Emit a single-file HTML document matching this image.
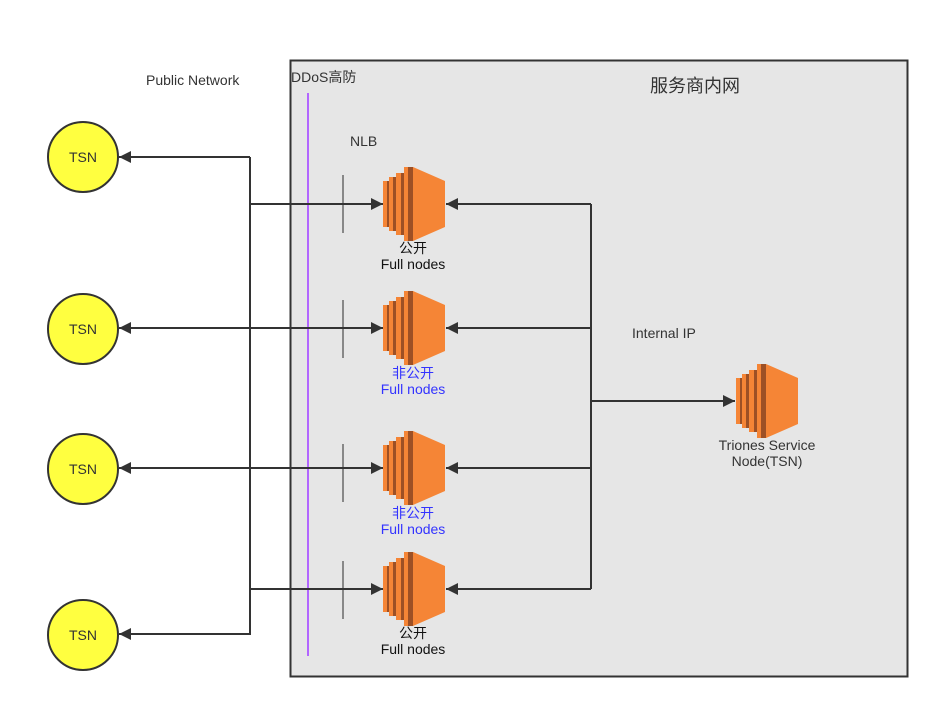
<!DOCTYPE html>
<html><head><meta charset="utf-8"><style>
html,body{margin:0;padding:0;background:#fff}
svg{display:block}
text{font-family:"Liberation Sans","Noto Sans CJK SC",sans-serif}
</style></head><body>
<svg width="939" height="709" viewBox="0 0 939 709" xmlns="http://www.w3.org/2000/svg">
<defs>
<marker id="ar" viewBox="0 0 10 10" refX="10" refY="5" markerWidth="12" markerHeight="12" markerUnits="userSpaceOnUse" orient="auto"><path d="M0,0 L10,5 L0,10 Z" fill="#333"/></marker>
<g id="ic">
<rect x="0" y="14" width="4" height="46" fill="#f58536"/><rect x="4" y="14" width="2" height="46" fill="#9d5025"/>
<rect x="6" y="10" width="4" height="54" fill="#f58536"/><rect x="10" y="10" width="3" height="54" fill="#9d5025"/>
<rect x="13" y="6" width="5" height="62" fill="#f58536"/><rect x="18" y="6" width="3" height="62" fill="#9d5025"/>
<rect x="21" y="0" width="4" height="74" fill="#f58536"/><rect x="25" y="0" width="5" height="74" fill="#9d5025"/>
<polygon points="30,0 62,14 62,60 30,74" fill="#f58536"/>
</g>
</defs>
<rect x="290.5" y="60.5" width="617" height="616" fill="#e6e6e6" stroke="#333" stroke-width="2"/>
<line x1="308" y1="93" x2="308" y2="656" stroke="#b266ff" stroke-width="2"/>
<g stroke="#888" stroke-width="2">
<line x1="343" y1="175" x2="343" y2="233"/><line x1="343" y1="300" x2="343" y2="358"/>
<line x1="343" y1="444" x2="343" y2="502"/><line x1="343" y1="561" x2="343" y2="619"/>
</g>
<g stroke="#333" stroke-width="2" fill="none">
<line x1="250" y1="157" x2="250" y2="635"/>
<line x1="250" y1="157" x2="119" y2="157" marker-end="url(#ar)"/>
<line x1="250" y1="634" x2="119" y2="634" marker-end="url(#ar)"/>
<line x1="250" y1="204" x2="383" y2="204" marker-end="url(#ar)"/>
<line x1="250" y1="589" x2="383" y2="589" marker-end="url(#ar)"/>
<line x1="250" y1="328" x2="119" y2="328" marker-end="url(#ar)"/>
<line x1="250" y1="328" x2="383" y2="328" marker-end="url(#ar)"/>
<line x1="250" y1="468" x2="119" y2="468" marker-end="url(#ar)"/>
<line x1="250" y1="468" x2="383" y2="468" marker-end="url(#ar)"/>
<line x1="591" y1="204" x2="591" y2="589"/>
<line x1="591" y1="204" x2="446" y2="204" marker-end="url(#ar)"/>
<line x1="591" y1="328" x2="446" y2="328" marker-end="url(#ar)"/>
<line x1="591" y1="468" x2="446" y2="468" marker-end="url(#ar)"/>
<line x1="591" y1="589" x2="446" y2="589" marker-end="url(#ar)"/>
<line x1="591" y1="401" x2="735" y2="401" marker-end="url(#ar)"/>
</g>
<g fill="#ffff40" stroke="#333" stroke-width="2">
<circle cx="83" cy="157" r="35"/><circle cx="83" cy="329" r="35"/>
<circle cx="83" cy="469" r="35"/><circle cx="83" cy="635" r="35"/>
</g>
<g font-size="14" fill="#333" text-anchor="middle">
<text x="83" y="162">TSN</text><text x="83" y="334">TSN</text>
<text x="83" y="474">TSN</text><text x="83" y="640">TSN</text>
</g>
<use href="#ic" x="383" y="167"/><use href="#ic" x="383" y="291"/>
<use href="#ic" x="383" y="431"/><use href="#ic" x="383" y="552"/>
<use href="#ic" x="736" y="364"/>
<g font-size="14" text-anchor="middle">
<text x="413" y="253" fill="#111">公开</text><text x="413" y="269" fill="#111">Full nodes</text>
<text x="413" y="378" fill="#3333ff">非公开</text><text x="413" y="394" fill="#3333ff">Full nodes</text>
<text x="413" y="518" fill="#3333ff">非公开</text><text x="413" y="534" fill="#3333ff">Full nodes</text>
<text x="413" y="638" fill="#111">公开</text><text x="413" y="654" fill="#111">Full nodes</text>
<text x="767" y="450" fill="#333">Triones Service</text><text x="767" y="466" fill="#333">Node(TSN)</text>
</g>
<g font-size="14" fill="#333">
<text x="146" y="85">Public Network</text>
<text x="291" y="82">DDoS高防</text>
<text x="350" y="146">NLB</text>
<text x="632" y="338">Internal IP</text>
<text x="650" y="92" font-size="18">服务商内网</text>
</g>
</svg>
</body></html>
